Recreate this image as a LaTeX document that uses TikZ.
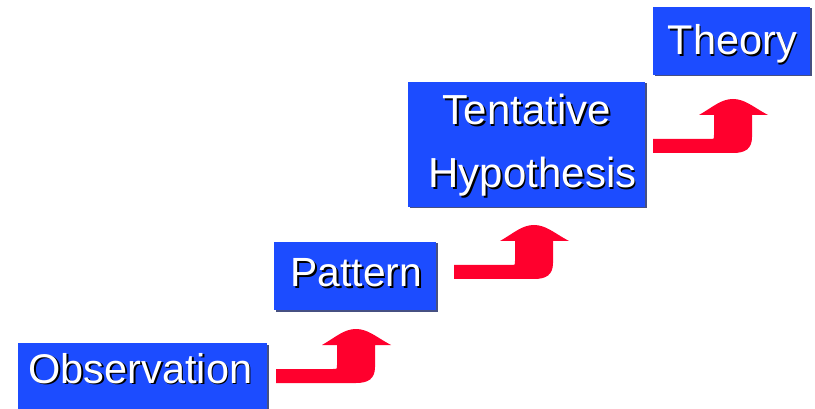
\documentclass[tikz,border=0pt]{standalone}
\usepackage{fontspec}
\setmainfont{Liberation Sans}
\usetikzlibrary{shadows}
\definecolor{boxblue}{RGB}{28,76,255}
\definecolor{boxedge}{RGB}{70,80,130}
\definecolor{arrowred}{RGB}{255,0,45}
\newcommand\shtext[1]{\makebox[0pt][l]{\hspace{1.6pt}\raisebox{-1.6pt}{\color{black}#1}}#1}
\tikzset{
  stepbox/.style={rectangle, fill=boxblue, inner sep=0pt, outer sep=0pt,
    drop shadow={shadow xshift=1.5pt, shadow yshift=-1.5pt, fill=boxedge, opacity=1}},
  lbl/.style={text=white, inner sep=0pt, outer sep=0pt, anchor=base},
  pics/stairarrow/.style={code={
    \fill[arrowred] (0,0) -- (0,-14) -- (57,-14) .. controls (61,-14) .. (61,-18)
      -- (61,-38) -- (46,-38)
      .. controls (60,-46) and (68,-54) .. (80,-54)
      .. controls (92,-54) and (100,-46) .. (115,-38)
      -- (99,-38) -- (99,-16) .. controls (99,-4) and (92,0) .. (80,0) -- cycle;
  }}
}
\begin{document}
\begin{tikzpicture}[x=1pt,y=-1pt]
\useasboundingbox (0,0) rectangle (815,409);
% boxes
\node[stepbox, minimum width=249pt, minimum height=68pt] (obs) at (142.5,377) {};
\node[stepbox, minimum width=162pt, minimum height=68pt] (pat) at (355,276) {};
\node[stepbox, minimum width=237pt, minimum height=125pt] (tent) at (526.5,144.5) {};
\node[stepbox, minimum width=157pt, minimum height=68pt] (theo) at (731.5,41) {};
% labels
\node[lbl, font=\fontsize{41.5}{50}\selectfont] (tobs) at (140.5,383) {\shtext{Observation}};
\node[lbl, font=\fontsize{40.8}{50}\selectfont] (tpat) at (356.5,287) {\shtext{Pattern}};
\node[lbl, font=\fontsize{42}{50}\selectfont] (ttent) at (527,125) {\shtext{Tentative}};
\node[lbl, font=\fontsize{42}{50}\selectfont] (thyp) at (532.5,188) {\shtext{Hypothesis}};
\node[lbl, font=\fontsize{41.5}{50}\selectfont] (ttheo) at (732.5,55) {\shtext{Theory}};
% arrows
\coordinate (a1) at (276,383);
\coordinate (a2) at (454,279);
\coordinate (a3) at (653,153);
\pic at (a1) {stairarrow};
\pic at (a2) {stairarrow};
\pic at (a3) {stairarrow};
\end{tikzpicture}
\end{document}
